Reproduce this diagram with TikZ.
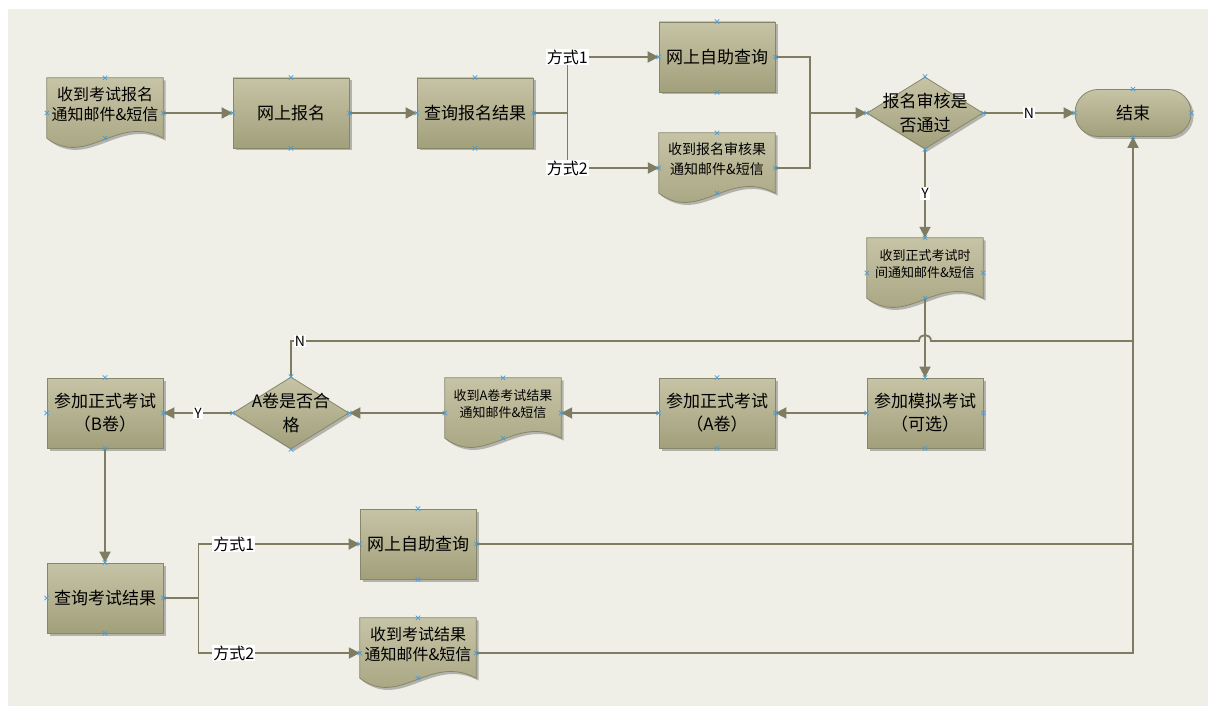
\documentclass[tikz,border=0pt]{standalone}
\usepackage{fontspec}
\setmainfont{Noto Sans CJK SC}
\usetikzlibrary{shapes.geometric,arrows.meta,shadows}
\pgfdeclarelayer{back}
\pgfsetlayers{back,main}
\definecolor{panelbg}{RGB}{239,239,232}
\definecolor{boxtop}{RGB}{198,196,166}
\definecolor{boxbot}{RGB}{162,159,123}
\definecolor{boxline}{RGB}{136,134,106}
\definecolor{flowcol}{RGB}{127,124,97}
\definecolor{cptblue}{RGB}{72,158,218}
\newcommand{\docpath}[1]{(#1.north west) -- (#1.north east) -- ([yshift=10pt]#1.south east) .. controls +(-46,-25) and +(40,30) .. ([yshift=10pt]#1.south west) -- cycle}
\newcommand{\cmark}[1]{\draw[cpt] (#1) +(-2.2,-2.2) -- +(2.2,2.2) +(-2.2,2.2) -- +(2.2,-2.2);}
\begin{document}
\begin{tikzpicture}[x=1pt, y=-1pt,
        box/.style={rectangle, draw=boxline, line width=.8pt, top color=boxtop, bottom color=boxbot,
            minimum width=116pt, minimum height=70pt, inner sep=1pt, align=center,
            font=\fontsize{17}{23}\selectfont,
            drop shadow={shadow xshift=2.5pt, shadow yshift=-2.5pt, fill=black, opacity=.25}},
        docbox/.style={rectangle, minimum width=116pt, minimum height=70pt, inner sep=0pt},
        docfill/.style={draw=boxline, line width=.8pt, top color=boxtop, bottom color=boxbot},
        doctext/.style={align=center, inner sep=0pt, font=\fontsize{16}{20}\selectfont},
        smalldoc/.style={font=\fontsize{13}{17}\selectfont},
        decision/.style={diamond, draw=boxline, line width=.8pt, top color=boxtop, bottom color=boxbot,
            minimum width=116pt, minimum height=72pt, inner sep=0pt,
            drop shadow={shadow xshift=2.5pt, shadow yshift=-2.5pt, fill=black, opacity=.25}},
        dtext/.style={align=center, inner sep=0pt, font=\fontsize{17}{24}\selectfont},
        terminal/.style={rectangle, rounded corners=23pt, draw=boxline, line width=.8pt,
            top color=boxtop, bottom color=boxbot, minimum width=116pt, minimum height=47pt,
            font=\fontsize{17}{23}\selectfont,
            drop shadow={shadow xshift=2.5pt, shadow yshift=-2.5pt, fill=black, opacity=.25}},
        lbl/.style={fill=white, inner sep=1pt, font=\fontsize{16}{18}\selectfont},
        yn/.style={font=\fontsize{14}{16}\selectfont},
        flow/.style={draw=flowcol, line width=1.8pt},
        arr/.style={flow, -{Triangle[length=11pt, width=11pt]}},
        cpt/.style={draw=cptblue, line width=.7pt}]
    \useasboundingbox (0,0) rectangle (1208,706);
    \begin{pgfonlayer}{back}
        \fill[panelbg] (8,9) rectangle (1208,706);
    \end{pgfonlayer}

    \node[docbox] (mailreg) at (105,113) {};
    \node[doctext] (mailregt) at ([yshift=9pt]mailreg.center) {收到考试报名\\通知邮件\&短信};
    \node[box] (signup) at (291,113) {网上报名};
    \node[box] (queryreg) at (475,113) {查询报名结果};
    \node[box] (online1) at (717,57) {网上自助查询};
    \node[docbox] (mailaudit) at (717,168) {};
    \node[doctext, font=\fontsize{14}{20}\selectfont] (mailauditt) at ([yshift=9pt]mailaudit.center) {收到报名审核果\\通知邮件\&短信};
    \node[decision] (check1) at (925,113) {};
    \node[dtext] (check1t) at (check1) {报名审核是\\否通过};
    \node[terminal] (finish) at (1133,113) {结束};
    \node[docbox] (mailtime) at (925,273) {};
    \node[doctext, smalldoc] (mailtimet) at ([yshift=9pt]mailtime.center) {收到正式考试时\\间通知邮件\&短信};
    \node[box] (trial) at (925,413) {参加模拟考试\\（可选）};
    \node[box] (examA) at (717,413) {参加正式考试\\（A卷）};
    \node[docbox] (mailA) at (503,413) {};
    \node[doctext, smalldoc] (mailAt) at ([yshift=9pt]mailA.center) {收到A卷考试结果\\通知邮件\&短信};
    \node[decision] (checkA) at (291,413) {};
    \node[dtext] (checkAt) at (checkA) {A卷是否合\\格};
    \node[box] (examB) at (105,413) {参加正式考试\\（B卷）};
    \node[box] (queryres) at (105,598) {查询考试结果};
    \node[box] (online2) at (418,544) {网上自助查询};
    \node[docbox] (mailres) at (418,653) {};
    \node[doctext] (mailrest) at ([yshift=9pt]mailres.center) {收到考试结果\\通知邮件\&短信};

    \begin{pgfonlayer}{back}
        \foreach \d in {mailreg,mailaudit,mailtime,mailA,mailres} {
            \begin{scope}[transform canvas={shift={(2.5pt,-2.5pt)}}]
                \fill[black, opacity=.25] \docpath{\d};
            \end{scope}
            \path[docfill] \docpath{\d};
        }
    \end{pgfonlayer}

    \draw[arr] (mailreg.east) -- (signup.west);
    \draw[arr] (signup.east) -- (queryreg.west);
    \draw[flow] (queryreg.east) -- ++(34,0) coordinate (split1);
    \draw[arr] (split1) |- node[lbl] {方式1} (online1.west);
    \draw[arr] (split1) |- node[lbl] {方式2} (mailaudit.west);
    \coordinate (merge1) at (810,113);
    \draw[flow] (online1.east) -| (merge1);
    \draw[flow] (mailaudit.east) -| (merge1);
    \draw[arr] (merge1) -- (check1.west);
    \draw[arr] (check1.east) -- node[lbl, yn] {N} (finish.west);
    \draw[arr] (check1.south) -- node[lbl, yn] {Y} (mailtime.north);
    \draw[arr] ([yshift=10pt]mailtime.south) -- (trial.north);
    \draw[arr] (trial.west) -- (examA.east);
    \draw[arr] (examA.west) -- (mailA.east);
    \draw[arr] (mailA.west) -- (checkA.east);
    \draw[arr] (checkA.west) -- node[lbl, yn] {Y} (examB.east);
    \coordinate (hopL) at (919,341);
    \coordinate (hopR) at (931,341);
    \draw[flow] (checkA.north) |- node[lbl, yn, anchor=west, xshift=2pt] {N} (hopL)
        .. controls +(0,-8) and +(0,-8) .. (hopR) -- (finish.south |- hopR);
    \draw[arr] (examB.south) -- (queryres.north);
    \draw[flow] (queryres.east) -- ++(35,0) coordinate (split2);
    \draw[arr] (split2) |- (online2.west) node[lbl, pos=.61] {方式1};
    \draw[arr] (split2) |- (mailres.west) node[lbl, pos=.61] {方式2};
    \draw[arr] (mailres.east) -| (finish.south);
    \draw[flow] (online2.east) -| (finish.south);

    \foreach \n in {signup,queryreg,online1,check1,finish,trial,examA,checkA,examB,queryres,online2} {
        \foreach \a in {north,south,east,west} {
            \cmark{\n.\a}
        }
    }
    \foreach \n in {mailreg,mailaudit,mailtime,mailA,mailres} {
        \foreach \a in {north,east,west} {
            \cmark{\n.\a}
        }
        \cmark{[yshift=10pt]\n.south}
    }
\end{tikzpicture}
\end{document}
